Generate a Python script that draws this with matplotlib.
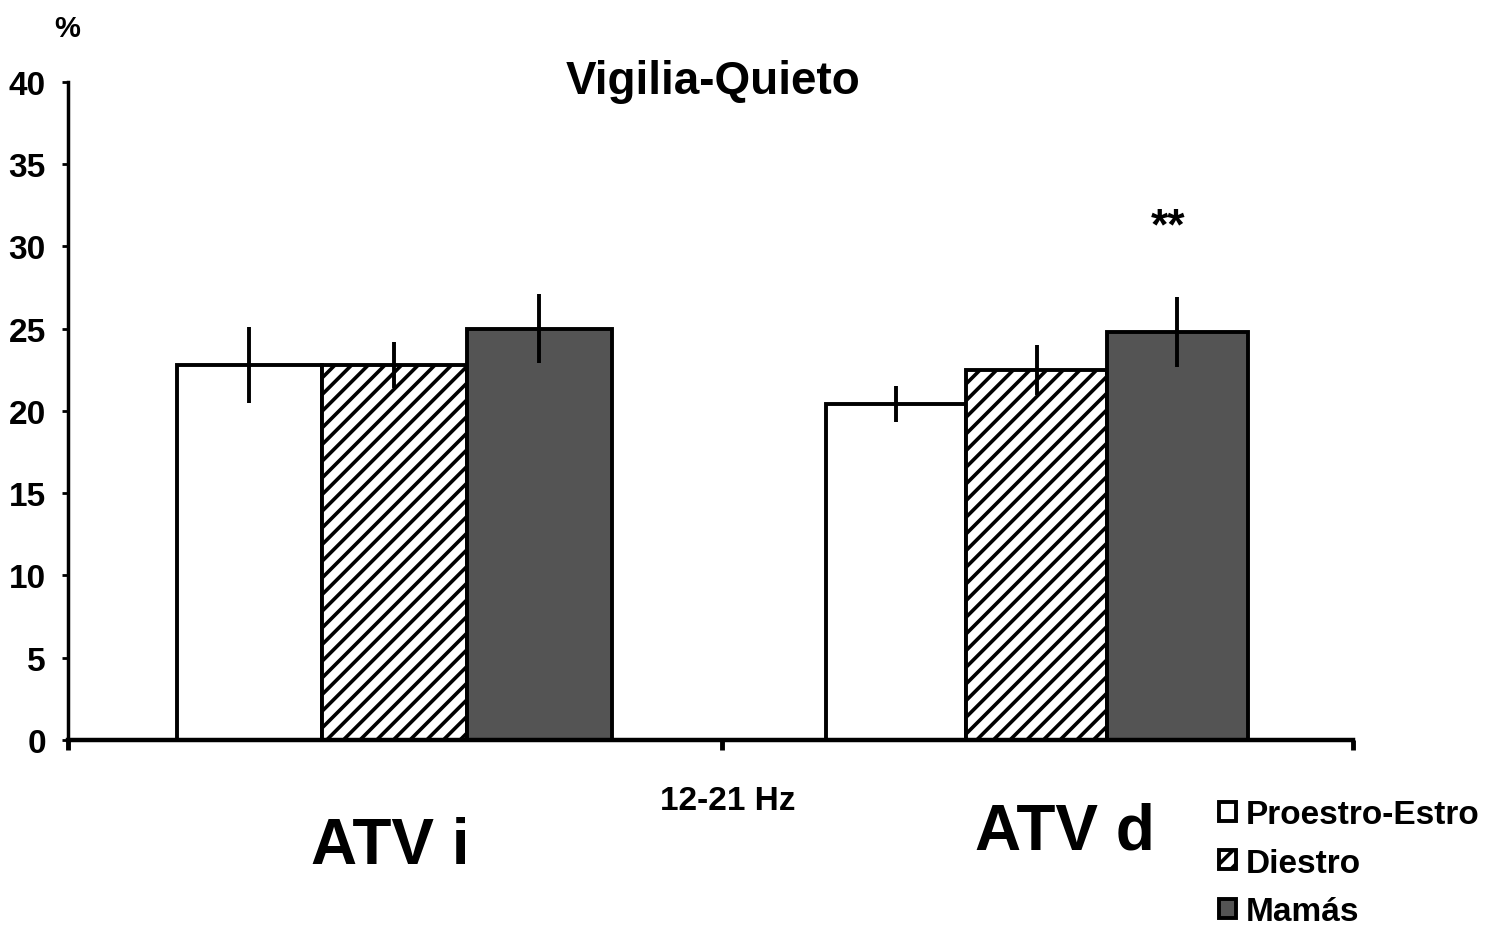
import numpy as np
import matplotlib.pyplot as plt

plt.rcParams.update({'font.family': 'Liberation Sans', 'font.weight': 'bold',
	'hatch.linewidth': 2.6})

regions = ['ATV i', 'ATV d']
groups = ['Proestro-Estro', 'Diestro', 'Mamás']
means = {
	'Proestro-Estro': [22.8, 20.4],
	'Diestro': [22.8, 22.5],
	'Mamás': [25.0, 24.8],
}
errors = {
	'Proestro-Estro': [2.3, 1.1],
	'Diestro': [1.4, 1.5],
	'Mamás': [2.1, 2.1],
}
styles = {
	'Proestro-Estro': dict(facecolor='white', hatch=None),
	'Diestro': dict(facecolor='white', hatch='//'),
	'Mamás': dict(facecolor='#545454', hatch=None),
}

fig = plt.figure(figsize=(14.85, 9.29), dpi=100)
ax = fig.add_axes([0.0458, 0.2024, 0.865, 0.7083])

centres = np.array([0.508, 1.508])
widths = np.array([0.226, 0.219])
for i, g in enumerate(groups):
	xs = centres + (i - 1) * widths
	ax.bar(xs, means[g], width=widths, edgecolor='black', linewidth=2.8,
		**styles[g], label=g, zorder=2)
	ax.errorbar(xs, means[g], yerr=errors[g], fmt='none', ecolor='black',
		elinewidth=2.8, capsize=0, zorder=3)

ax.set_xlim(0, 2)
ax.set_ylim(0, 40)
ax.set_yticks(range(0, 41, 5))
ax.set_xticks([0, 1.018, 2])
ax.set_xticklabels([])
ax.tick_params(axis='y', labelsize=24, width=2, length=4, direction='out', pad=12)
ax.tick_params(axis='x', width=3.5, length=7, direction='out')
for side in ['top', 'right']:
	ax.spines[side].set_visible(False)
ax.spines['left'].set_linewidth(2.5)
ax.spines['bottom'].set_linewidth(3.2)

# significance mark over the Mamás bar in ATV d
ax.text(1.508 + widths[1] - 0.014, 31.2, '**', ha='center', va='center', fontsize=32)

fig.text(0.48, 0.912, 'Vigilia-Quieto', ha='center', va='center', fontsize=33)
fig.text(0.045, 0.969, '%', ha='center', va='center', fontsize=21)
fig.text(0.49, 0.137, '12-21 Hz', ha='center', va='center', fontsize=24)
fig.text(0.263, 0.088, regions[0], ha='center', va='center', fontsize=46)
fig.text(0.717, 0.104, regions[1], ha='center', va='center', fontsize=46)

leg = fig.legend(loc='upper left', bbox_to_anchor=(0.812, 0.153), frameon=False,
	fontsize=24, handlelength=0.5, handleheight=0.5, handletextpad=0.3,
	labelspacing=0.52, borderaxespad=0)

fig.savefig('out.png', dpi=100)
